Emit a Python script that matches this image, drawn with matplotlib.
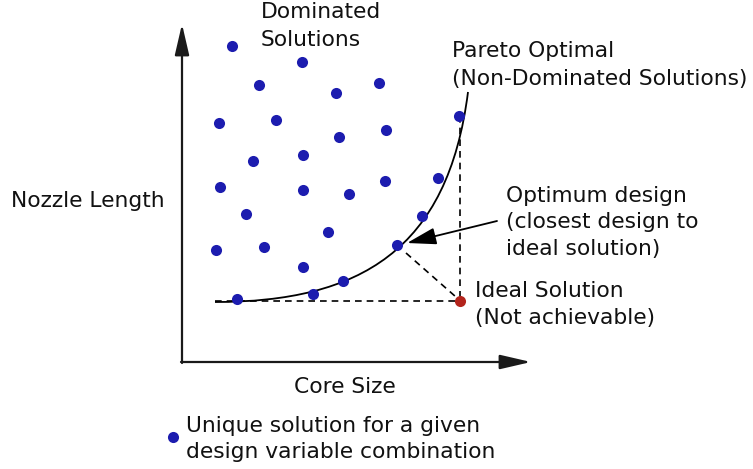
import matplotlib
matplotlib.use("Agg")
import matplotlib.pyplot as plt
from matplotlib.path import Path
from matplotlib.patches import PathPatch

# ---- data (in pixel units of the 753x469 canvas) ----
dominated_x = [232, 302, 259, 336, 379, 219, 276, 339, 386, 253, 303,
               220, 303, 349, 385, 246, 328, 216, 264, 303]
dominated_y = [46, 62, 85, 93, 83, 123, 120, 137, 130, 161, 155,
               187, 190, 194, 181, 214, 232, 250, 247, 267]

pareto_x = [237, 313, 343, 397, 422, 438, 459]
pareto_y = [299, 294, 281, 245, 216, 178, 116]

ideal_x, ideal_y = [460], [301]
optimum_x, optimum_y = [397], [245]

# Pareto front curve (cubic Bezier control points)
front_x = [215, 360, 448, 468]
front_y = [302, 302, 250, 92]

legend_dot_x, legend_dot_y = [173], [437]

labels = [
    ("Dominated", 261, 18), ("Solutions", 261, 46),
    ("Pareto Optimal", 452, 57), ("(Non-Dominated Solutions)", 452, 85),
    ("Optimum design", 506, 202), ("(closest design to", 506, 228),
    ("ideal solution)", 506, 255),
    ("Ideal Solution", 475, 297), ("(Not achievable)", 475, 324),
    ("Nozzle Length", 11, 207),
    ("Core Size", 294, 393),
    ("Unique solution for a given", 186, 432),
    ("design variable combination", 186, 458),
]

BLUE = "#1c1caf"
RED = "#b3241c"
FS = 15.7

fig = plt.figure(figsize=(7.53, 4.69), dpi=100)
ax = fig.add_axes([0, 0, 1, 1])
ax.set_xlim(0, 753)
ax.set_ylim(469, 0)
ax.axis("off")

# axes arrows
ax.annotate("", xy=(182, 24), xytext=(182, 363),
            arrowprops=dict(arrowstyle="-|>,head_length=0.95,head_width=0.22",
                            mutation_scale=20, lw=1.6, color="#1a1a1a",
                            shrinkA=0, shrinkB=0))
ax.annotate("", xy=(531, 362), xytext=(181, 362),
            arrowprops=dict(arrowstyle="-|>,head_length=0.95,head_width=0.22",
                            mutation_scale=20, lw=1.6, color="#1a1a1a",
                            shrinkA=0, shrinkB=0))

# dashed guides
dash = dict(color="black", lw=1.2, ls=(0, (4, 3)))
ax.plot([front_x[0], ideal_x[0]], [ideal_y[0], ideal_y[0]], **dash)
ax.plot([ideal_x[0], ideal_x[0]], [pareto_y[-1], ideal_y[0]], **dash)
ax.plot([optimum_x[0] + 9, ideal_x[0] - 4], [optimum_y[0] + 8, ideal_y[0] - 4], **dash)

# pareto front curve
path = Path(list(zip(front_x, front_y)),
            [Path.MOVETO, Path.CURVE4, Path.CURVE4, Path.CURVE4])
ax.add_patch(PathPatch(path, fc="none", ec="black", lw=1.3))

# points
ax.plot(dominated_x, dominated_y, "o", color=BLUE, ms=8, mec="none")
ax.plot(pareto_x, pareto_y, "o", color=BLUE, ms=8, mec="none")
ax.plot(ideal_x, ideal_y, "o", color=RED, ms=8, mec="none")
ax.plot(legend_dot_x, legend_dot_y, "o", color=BLUE, ms=8, mec="none")

# arrow to optimum design
ax.annotate("", xy=(407, 243), xytext=(497, 221),
            arrowprops=dict(arrowstyle="-|>,head_length=0.9,head_width=0.26",
                            mutation_scale=20, lw=1.3, color="black",
                            shrinkA=0, shrinkB=0))

for txt, x, y in labels:
    ax.text(x, y, txt, fontsize=FS, family="DejaVu Sans",
            ha="left", va="baseline", color="#111111")

fig.savefig("out.png", dpi=100)
